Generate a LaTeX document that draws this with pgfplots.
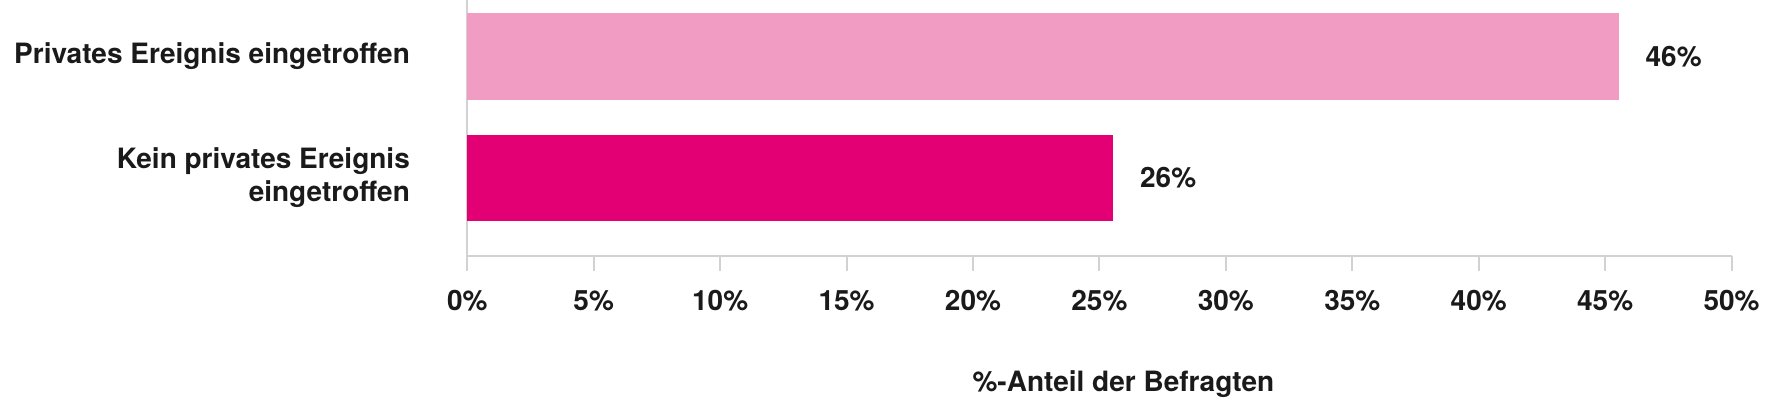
\documentclass[border=0pt]{standalone}
\usepackage{pgfplots}
\pgfplotsset{compat=1.18}
\usepackage{fontspec}
\setmainfont{TeX Gyre Heros}
\definecolor{lightpink}{HTML}{F19CC3}
\definecolor{magenta}{HTML}{E20074}
\definecolor{axgrey}{HTML}{D2D2D2}
\definecolor{txt}{HTML}{1A1A1A}
\begin{document}
\begin{tikzpicture}[font=\fontsize{14}{16.4}\selectfont\bfseries, text=txt]
\begin{axis}[
  name=ax,
  at={(0,0)}, anchor=south west,
  scale only axis,
  width=632.2pt, height=128.1pt,
  xmin=0, xmax=50,
  ymin=-0.6465, ymax=1.4648,
  axis x line*=bottom, axis y line*=left,
  axis line style={axgrey, line width=1pt, -},
  xtick={0,5,...,50},
  xticklabels={0\%,5\%,10\%,15\%,20\%,25\%,30\%,35\%,40\%,45\%,50\%},
  x tick style={axgrey, line width=1pt},
  major tick length=7.5pt,
  tick align=outside,
  xticklabel style={inner sep=0pt, anchor=center, yshift=-14.6pt},
  ytick={0,1},
  yticklabels={{Kein privates Ereignis\\eingetroffen},{Privates Ereignis eingetroffen}},
  y tick style={draw=none},
  yticklabel style={align=right, inner sep=0pt, anchor=east, xshift=-21pt},
  xlabel={\%-Anteil der Befragten},
  xlabel style={at={(axis description cs:0.5,0)}, anchor=center, yshift=-64pt, xshift=12pt},
  xbar, bar width=43.2pt,
  /pgf/number format/assume math mode=true,
  nodes near coords={\pgfmathprintnumber[fixed,precision=0,assume math mode=true]{\pgfplotspointmeta}\%},
  nodes near coords style={anchor=west, xshift=10pt, text=txt},
  point meta=x,
  clip=false,
]
\addplot[fill=lightpink, draw=none, bar shift=0pt] coordinates {(45.53,1)};
\addplot[fill=magenta, draw=none, bar shift=0pt] coordinates {(25.54,0)};
\end{axis}
\pgfresetboundingbox
\path[use as bounding box] ([shift={(-233.65pt,-72.4pt)}]ax.south west) rectangle ([shift={(19.2pt,0pt)}]ax.north east);
\end{tikzpicture}
\end{document}
